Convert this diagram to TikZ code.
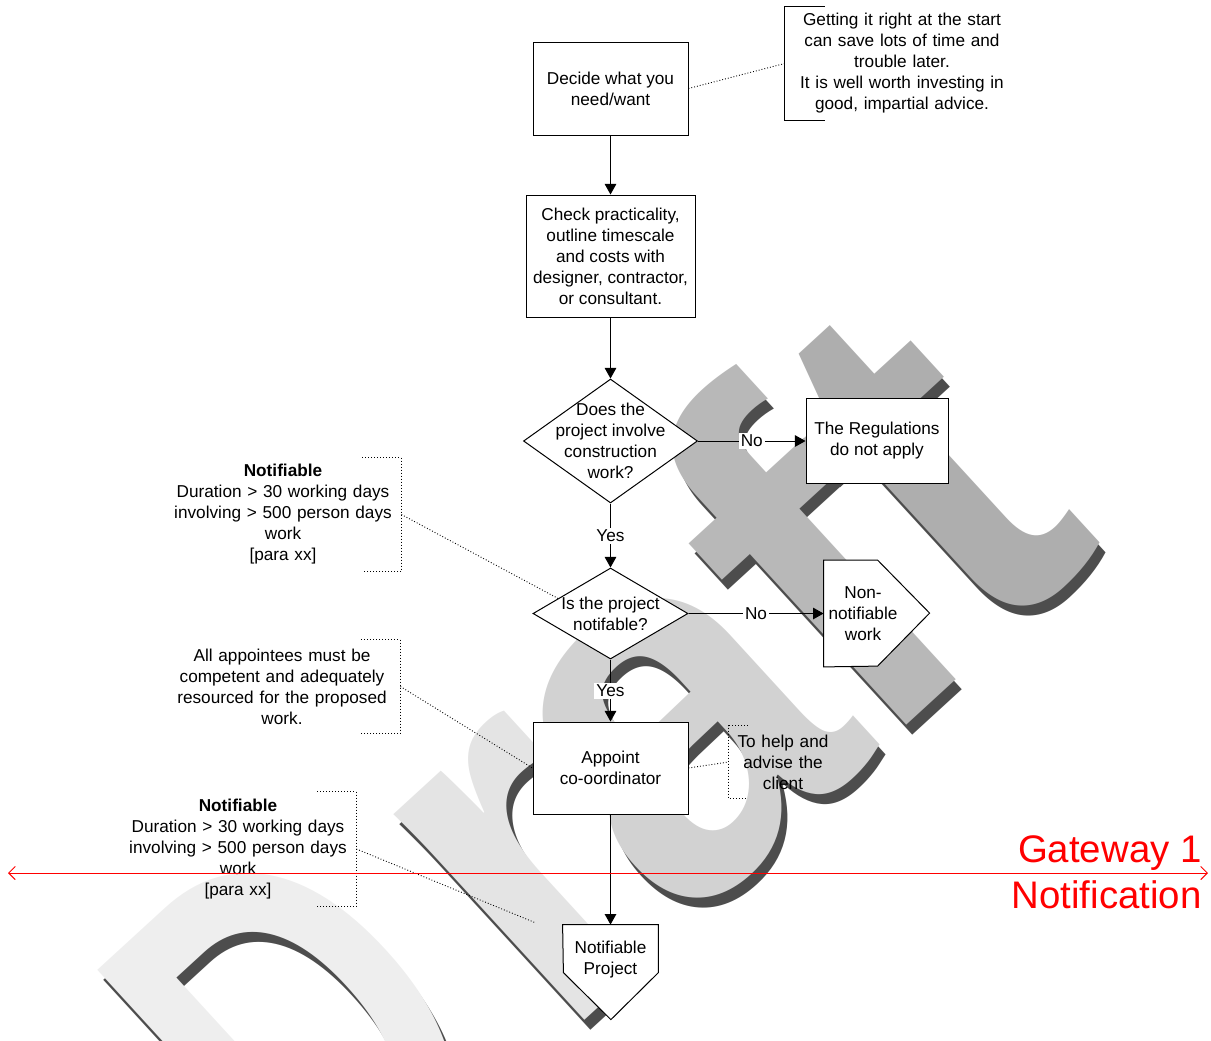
\documentclass[tikz,border=0pt]{standalone}
\usepackage{graphicx}
\usepackage{fontspec}
\setmainfont{Liberation Sans}
\usetikzlibrary{arrows.meta,shapes.geometric,backgrounds}

\definecolor{draftD}{HTML}{EEEEEE}
\definecolor{draftR}{HTML}{E4E4E4}
\definecolor{draftA}{HTML}{D2D2D2}
\definecolor{draftF}{HTML}{B8B8B8}
\definecolor{draftT}{HTML}{AEAEAE}
\definecolor{draftShade}{HTML}{4D4D4D}
\definecolor{gateRed}{HTML}{FF0000}

% the watermark word, one colour per letter
\newcommand{\draftword}[5]{\textcolor{#1}{\scalebox{0.75}[1]{D}}\kern24.4pt\textcolor{#2}{r}\kern-15pt\textcolor{#3}{a}\kern-5pt\textcolor{#4}{f}\kern-5pt\textcolor{#5}{t}}

\tikzset{
  process/.style={draw, fill=white, align=center, inner sep=2pt, line width=0.5pt},
  decision/.style={draw, fill=white, diamond, inner sep=0pt, line width=0.5pt},
  flow/.style={-{Triangle[length=5.3pt,width=5.8pt]}, line width=0.5pt},
  answer/.style={fill=white, inner sep=1pt},
  note/.style={align=center, text width=110pt, inner xsep=4pt, inner ysep=0pt},
  notelink/.style={densely dotted, line width=0.45pt},
  bracket/.style={line width=0.5pt},
  watermark/.style={rotate=42.5, yscale=1.08, inner sep=0pt, font=\fontsize{246}{246}\selectfont\bfseries},
  gateway/.style={gateRed, line width=0.5pt,
    {Straight Barb[length=3.3pt,width=6.6pt]}-{Straight Barb[length=3.3pt,width=6.6pt]}},
}

\begin{document}
\begin{tikzpicture}[x=0.5pt, y=-0.5pt, font=\fontsize{8.6}{10.5}\selectfont]
\useasboundingbox (0,0) rectangle (1211,1040);

% steps of the flow
\node[process, minimum width=77.5pt, minimum height=46.5pt] (decide) at (610.5,88.5) {Decide what you\\need/want};
\node[process, minimum width=84.5pt, minimum height=61pt] (check) at (610.5,256) {Check practicality,\\outline timescale\\and costs with\\designer, contractor,\\or consultant.};
\node[decision, minimum width=87pt, minimum height=62pt] (constrQ) at (610.5,441) {};
\node[align=center] (constrQtext) at (constrQ) {Does the\\project involve\\construction\\work?};
\node[process, minimum width=71pt, minimum height=42.5pt] (noApply) at (877,441) {The Regulations\\do not apply};
\node[decision, minimum width=77.5pt, minimum height=45.5pt] (notifQ) at (610.5,613.5) {};
\node[align=center] (notifQtext) at (notifQ) {Is the project\\notifable?};
\node[align=center, inner sep=0pt, minimum width=39pt, minimum height=53pt] (nonNotif) at (863,613.5) {Non-\\notifiable\\work};
\node[process, minimum width=77.5pt, minimum height=46pt] (appoint) at (610.5,768) {Appoint\\co-oordinator};
\node[align=center, inner sep=0pt, minimum width=47.5pt, minimum height=34.5pt] (notifProj) at (610.5,959.5) {Notifiable\\Project};

% notes
\node[note, text width=104pt, inner xsep=6.5pt, minimum height=56.5pt] (adviceNote) at (902,63.5) {Getting it right at the start\\can save lots of time and\\trouble later.\\It is well worth investing in\\good, impartial advice.};
\node[note, minimum height=56.5pt] (durationNote) at (283,514.5) {\textbf{Notifiable}\\Duration > 30 working days\\involving > 500 person days\\work\\{}[para xx]};
\node[note, minimum height=46.5pt] (competentNote) at (282,686.5) {All appointees must be\\competent and adequately\\resourced for the proposed\\work.};
\node[note, text width=46pt, minimum height=36pt] (helpNote) at (783,762) {To help and\\advise the\\client};
\node[note, minimum height=57pt] (durationNoteB) at (238,849) {\textbf{Notifiable}\\Duration > 30 working days\\involving > 500 person days\\work\\{}[para xx]};

% arrows
\draw[flow] (decide) -- (check);
\draw[flow] (check) -- (constrQ);
\draw[flow] (constrQ) -- node[answer] {No} (noApply);
\draw[flow] (constrQ) -- node[answer] {Yes} (notifQ);
\draw[flow] (notifQ) -- node[answer] {No} (nonNotif.west);
\draw[flow] (notifQ) -- node[answer] {Yes} (appoint);
\draw[flow] (appoint) -- (notifProj);

% brackets and note links
\draw[bracket] ([xshift=20pt]adviceNote.north west) -- (adviceNote.north west) -- (adviceNote.south west) -- ([xshift=20pt]adviceNote.south west);
\draw[bracket, densely dotted] ([xshift=-19.5pt]durationNote.north east) -- (durationNote.north east) -- (durationNote.south east) -- ([xshift=-19.5pt]durationNote.south east);
\draw[bracket, densely dotted] ([xshift=-19.5pt]competentNote.north east) -- (competentNote.north east) -- (competentNote.south east) -- ([xshift=-19.5pt]competentNote.south east);
\draw[bracket, densely dotted] ([xshift=9.5pt]helpNote.north west) -- (helpNote.north west) -- (helpNote.south west) -- ([xshift=9.5pt]helpNote.south west);
\draw[bracket, densely dotted] ([xshift=-19.5pt]durationNoteB.north east) -- (durationNoteB.north east) -- (durationNoteB.south east) -- ([xshift=-19.5pt]durationNoteB.south east);
\coordinate (durationEnd) at (536,923);
\draw[notelink] (decide.east) -- (adviceNote.west);
\draw[notelink] (durationNote.east) -- (notifQ.164);
\draw[notelink] (competentNote.east) -- (appoint.west);
\draw[notelink] (appoint.east) -- (helpNote.west);
\draw[notelink] (durationNoteB.east) -- (durationEnd);

% gateway
\coordinate (gateStart) at (8,873);
\coordinate (gateEnd) at (1208,873);
\draw[gateway] (gateStart) -- (gateEnd);
\node[text=gateRed, anchor=east, align=right, inner sep=0pt, font=\fontsize{19.2}{23}\selectfont] (gateText) at (1202,872) {Gateway 1\\Notification};

% watermark and off-page shapes behind
\begin{scope}[on background layer]
  \node[watermark] (draftShadow) at (594.7,769.1) {\draftword{draftShade}{draftShade}{draftShade}{draftShade}{draftShade}};
  \node[watermark] (draft) at (588.7,759.1) {\draftword{draftD}{draftR}{draftA}{draftF}{draftT}};
  \draw[fill=white, line width=0.5pt] (nonNotif.north west) -- ++(54,0) -- ++(52,53) -- ++(-52,53) -- (nonNotif.south west) -- cycle;
  \draw[fill=white, line width=0.5pt] (notifProj.north west) -- (notifProj.north east) -- ++(0,48) -- ++(-47.5,47) -- ++(-47.5,-47) -- cycle;
\end{scope}
\end{tikzpicture}
\end{document}
